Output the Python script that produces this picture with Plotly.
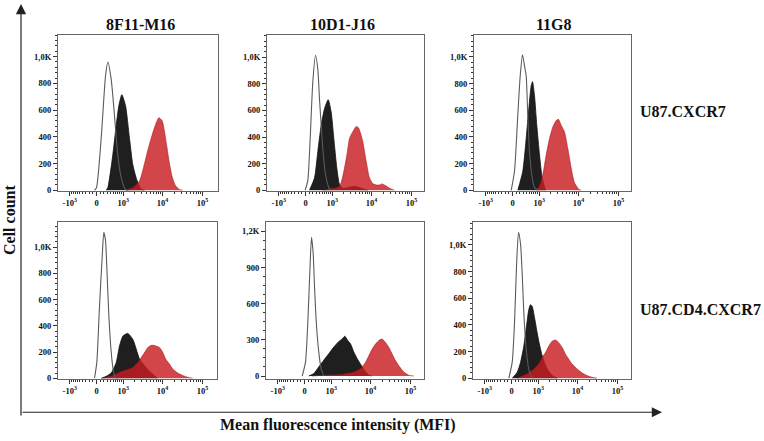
import math
import plotly.graph_objects as go

# ---------------- text ----------------
antibodies = ["8F11-M16", "10D1-J16", "11G8"]
cell_lines = ["U87.CXCR7", "U87.CD4.CXCR7"]
x_title = "Mean fluorescence intensity (MFI)"
y_title = "Cell count"

# x ticks (biexponential display)
x_tick_mfi = [-1000, 0, 1000, 10000, 100000]
x_tick_text = ["-10<sup>3</sup>", "0", "10<sup>3</sup>", "10<sup>4</sup>", "10<sup>5</sup>"]
x_minor_mfi = ([-900, -800, -700, -600, -500, -400, -300, -200, -100]
               + [100, 200, 300, 400, 500, 600, 700, 800, 900]
               + [2000, 3000, 4000, 5000, 6000, 7000, 8000, 9000]
               + [20000, 30000, 40000, 50000, 60000, 70000, 80000, 90000])

y_tick_vals_a = [0, 200, 400, 600, 800, 1000]
y_tick_text_a = ["0", "200", "400", "600", "800", "1,0K"]
y_tick_vals_b = [0, 300, 600, 900, 1200]
y_tick_text_b = ["0", "300", "600", "900", "1,2K"]

# ---------------- data: MFI and cell counts ----------------
# U87.CXCR7 / 8F11-M16
cx_8f11_ctrl_mfi = [-52, 0, 123, 244, 315, 428, 553, 700, 880, 1150, 1384]
cx_8f11_ctrl_cnt = [0, 20, 390, 855, 960, 830, 560, 265, 94, 5, 0]
cx_8f11_neg_mfi = [265, 315, 487, 627, 750, 913, 1152, 1470, 1790, 2270, 2930, 3550]
cx_8f11_neg_cnt = [0, 20, 265, 486, 630, 715, 634, 388, 192, 77, 10, 0]
cx_8f11_pos_mfi = [1200, 1790, 2655, 3552, 4300, 5230, 6330, 8120, 9880, 11280, 12870, 15040, 17570, 21240, 26750, 32300]
cx_8f11_pos_cnt = [0, 20, 70, 200, 300, 390, 470, 543, 520, 440, 330, 200, 100, 35, 5, 0]

# U87.CXCR7 / 10D1-J16
cx_10d1_ctrl_mfi = [-8, 60, 123, 194, 274, 347, 403, 525, 641, 805, 935]
cx_10d1_ctrl_cnt = [0, 74, 390, 810, 1015, 909, 687, 316, 119, 20, 0]
cx_10d1_neg_mfi = [104, 244, 347, 464, 595, 770, 935, 1103, 1327, 1561, 1900, 2984, 3988, 5643, 7983]
cx_10d1_neg_cnt = [0, 94, 292, 489, 612, 681, 588, 390, 168, 44, 15, 25, 28, 15, 0]
cx_10d1_pos_mfi = [525, 839, 1561, 2340, 2815, 3552, 4160, 4743, 5326, 6080, 7400, 8957, 10830, 13400, 15930, 18500, 22500, 28330, 37780]
cx_10d1_pos_cnt = [0, 8, 30, 242, 390, 450, 480, 470, 430, 366, 218, 94, 50, 40, 40, 48, 35, 15, 0]

# U87.CXCR7 / 11G8
cx_11g8_ctrl_mfi = [-34, 52, 139, 206, 274, 337, 393, 449, 513, 627, 736, 913]
cx_11g8_ctrl_cnt = [0, 143, 561, 857, 1017, 931, 857, 561, 291, 94, 20, 0]
cx_11g8_neg_mfi = [139, 283, 393, 487, 582, 641, 736, 855, 1017, 1200, 1470]
cx_11g8_neg_cnt = [0, 143, 389, 611, 783, 815, 709, 487, 266, 94, 0]
cx_11g8_pos_mfi = [822, 1017, 1250, 1530, 1867, 2270, 2770, 3162, 3700, 4478, 5420, 6600, 7983, 10230, 11740]
cx_11g8_pos_cnt = [0, 32, 118, 266, 389, 475, 524, 532, 487, 438, 315, 167, 57, 8, 0]

# U87.CD4.CXCR7 / 8F11-M16
cd4_8f11_ctrl_mfi = [-52, 8, 78, 150, 195, 244, 283, 347, 428, 513, 595, 687]
cd4_8f11_ctrl_cnt = [0, 121, 548, 925, 1113, 1050, 849, 480, 200, 50, 5, 0]
cd4_8f11_neg_mfi = [123, 265, 428, 627, 786, 985, 1320, 1790, 2200, 2655, 3250, 3900, 5650, 7540]
cd4_8f11_neg_cnt = [0, 15, 40, 120, 246, 322, 342, 297, 221, 146, 110, 80, 33, 0]
cd4_8f11_pos_mfi = [166, 487, 786, 1200, 1790, 2420, 2930, 3552, 4300, 5230, 5980, 8456, 10230, 12140, 15040, 18170, 24250, 32300, 43100, 57500]
cd4_8f11_pos_cnt = [0, 21, 46, 63, 83, 121, 158, 196, 234, 251, 251, 234, 196, 145, 108, 70, 40, 21, 8, 0]

# U87.CD4.CXCR7 / 10D1-J16
cd4_10d1_ctrl_mfi = [-60, 26, 86, 139, 186, 235, 274, 337, 414, 500, 608]
cd4_10d1_ctrl_cnt = [0, 115, 442, 851, 1151, 1015, 742, 415, 196, 60, 0]
cd4_10d1_neg_mfi = [112, 253, 414, 608, 855, 1175, 1530, 1945, 2270, 2700, 3162, 3830, 4670, 5880, 7537, 9120, 10650]
cd4_10d1_neg_cnt = [0, 20, 76, 131, 185, 240, 281, 308, 330, 294, 267, 199, 144, 90, 35, 8, 0]
cd4_10d1_pos_mfi = [206, 770, 1759, 3830, 5643, 7537, 9120, 11080, 13400, 17170, 19670, 23830, 28830, 34950, 42390, 54280, 68300, 92500, 123000]
cd4_10d1_pos_cnt = [0, 8, 11, 33, 60, 115, 169, 224, 265, 301, 306, 279, 238, 183, 128, 74, 33, 5, 0]

# U87.CD4.CXCR7 / 11G8
cd4_11g8_ctrl_mfi = [-70, 18, 78, 131, 186, 244, 295, 347, 428, 525, 627, 750]
cd4_11g8_ctrl_cnt = [0, 119, 415, 835, 1094, 1008, 785, 489, 218, 69, 15, 0]
cd4_11g8_neg_mfi = [18, 150, 244, 347, 439, 525, 595, 670, 805, 935, 1103, 1280, 1470, 1730, 2340, 3110]
cd4_11g8_neg_cnt = [0, 45, 119, 242, 390, 514, 551, 539, 440, 341, 242, 168, 119, 69, 20, 0]
cd4_11g8_pos_mfi = [150, 464, 750, 1035, 1280, 1561, 1900, 2340, 2815, 3400, 4160, 5028, 6080, 7400, 9850, 13170, 17570, 23440, 31250]
cd4_11g8_pos_cnt = [0, 33, 69, 106, 156, 193, 242, 279, 287, 267, 230, 180, 143, 106, 69, 40, 20, 7, 0]

panels = [
    (cx_8f11_ctrl_mfi, cx_8f11_ctrl_cnt, cx_8f11_neg_mfi, cx_8f11_neg_cnt, cx_8f11_pos_mfi, cx_8f11_pos_cnt),
    (cx_10d1_ctrl_mfi, cx_10d1_ctrl_cnt, cx_10d1_neg_mfi, cx_10d1_neg_cnt, cx_10d1_pos_mfi, cx_10d1_pos_cnt),
    (cx_11g8_ctrl_mfi, cx_11g8_ctrl_cnt, cx_11g8_neg_mfi, cx_11g8_neg_cnt, cx_11g8_pos_mfi, cx_11g8_pos_cnt),
    (cd4_8f11_ctrl_mfi, cd4_8f11_ctrl_cnt, cd4_8f11_neg_mfi, cd4_8f11_neg_cnt, cd4_8f11_pos_mfi, cd4_8f11_pos_cnt),
    (cd4_10d1_ctrl_mfi, cd4_10d1_ctrl_cnt, cd4_10d1_neg_mfi, cd4_10d1_neg_cnt, cd4_10d1_pos_mfi, cd4_10d1_pos_cnt),
    (cd4_11g8_ctrl_mfi, cd4_11g8_ctrl_cnt, cd4_11g8_neg_mfi, cd4_11g8_neg_cnt, cd4_11g8_pos_mfi, cd4_11g8_pos_cnt),
]

# ---------------- layout helpers ----------------
W, H = 764, 441
FONT = "Liberation Serif"


def biex(v):
    """Arcsinh (biexponential-like) display transform."""
    return math.asinh(v / 450.0) / math.log(10)


frames_x = [(58, 218), (267, 424), (474, 631), (58, 217), (266, 424), (473, 631)]
frames_y = [(35, 193)] * 3 + [(225, 383)] * 3
y_ranges = [[-4, 1165], [-4, 1170], [-4, 1168], [-3, 1188], [-22, 1274], [-3, 1168]]

fig = go.Figure()
layout_axes = {}
for i, (dat, fx, fy) in enumerate(zip(panels, frames_x, frames_y)):
    n = i + 1
    xa = "x" if n == 1 else f"x{n}"
    ya = "y" if n == 1 else f"y{n}"
    ctrl_x, ctrl_y, neg_x, neg_y, pos_x, pos_y = dat
    fig.add_trace(go.Scatter(x=[biex(v) for v in neg_x], y=neg_y, xaxis=xa, yaxis=ya,
                             mode="lines", fill="tozeroy", fillcolor="#1f1f1f",
                             line=dict(color="#111111", width=0.8, shape="spline", smoothing=0.6)))
    fig.add_trace(go.Scatter(x=[biex(v) for v in pos_x], y=pos_y, xaxis=xa, yaxis=ya,
                             mode="lines", fill="tozeroy", fillcolor="rgba(200,28,32,0.82)",
                             line=dict(color="rgba(170,20,24,0.9)", width=0.6, shape="spline", smoothing=0.6)))
    fig.add_trace(go.Scatter(x=[biex(v) for v in ctrl_x], y=ctrl_y, xaxis=xa, yaxis=ya,
                             mode="lines",
                             line=dict(color="#5a5a5a", width=1.1, shape="spline", smoothing=0.6)))

    left, right = fx
    x0 = -38.5 / 40.0
    x1 = (right - left - 38.5) / 40.0
    tickfont = dict(family=FONT, size=8.5, color="#111", weight="bold")
    layout_axes["xaxis" if n == 1 else f"xaxis{n}"] = dict(
        domain=[left / W, right / W], anchor=ya, range=[x0, x1],
        tickmode="array", tickvals=[biex(v) for v in x_tick_mfi], ticktext=x_tick_text,
        ticks="outside", ticklen=4, tickwidth=1, tickcolor="#333",
        showline=True, linecolor="#666", linewidth=1, mirror=True,
        showgrid=False, zeroline=False, tickfont=tickfont, fixedrange=True,
        minor=dict(tickmode="array", tickvals=[biex(v) for v in x_minor_mfi],
                   ticks="outside", ticklen=2, tickwidth=1, tickcolor="#333", showgrid=False),
    )
    if n == 5:
        tv, tt, mdt = y_tick_vals_b, y_tick_text_b, 75
    else:
        tv, tt, mdt = y_tick_vals_a, y_tick_text_a, 40
    top, bottom = fy
    layout_axes["yaxis" if n == 1 else f"yaxis{n}"] = dict(
        domain=[1 - bottom / H, 1 - top / H], anchor=xa, range=y_ranges[i],
        tickmode="array", tickvals=tv, ticktext=tt,
        ticks="outside", ticklen=4, tickwidth=1, tickcolor="#333",
        showline=True, linecolor="#666", linewidth=1, mirror=True,
        showgrid=False, zeroline=False, tickfont=tickfont, fixedrange=True,
        minor=dict(dtick=mdt, tick0=0, ticks="outside", ticklen=2, tickwidth=1,
                   tickcolor="#333", showgrid=False),
    )

annotations = []
title_font = dict(family=FONT, size=16, color="#111", weight="bold")
for name, cx in zip(antibodies, [140, 342, 554]):
    annotations.append(dict(text=name, x=cx / W, y=1 - 25 / H, xref="paper", yref="paper",
                            xanchor="center", yanchor="middle", showarrow=False, font=title_font))
for name, cy in zip(cell_lines, [112.7, 312.7]):
    annotations.append(dict(text=name, x=638 / W, y=1 - cy / H, xref="paper", yref="paper",
                            xanchor="left", yanchor="middle", showarrow=False, font=title_font))
annotations.append(dict(text=x_title, x=337.5 / W, y=1 - 430 / H, xref="paper", yref="paper",
                        xanchor="center", yanchor="middle", showarrow=False, font=title_font))
annotations.append(dict(text=y_title, x=10 / W, y=1 - 222.5 / H, xref="paper", yref="paper",
                        xanchor="center", yanchor="middle", showarrow=False, textangle=-90,
                        font=title_font))
# big axis arrows
annotations.append(dict(text="", x=21 / W, y=1 - 4 / H, xref="paper", yref="paper",
                        ax=0, ay=413, showarrow=True, arrowhead=2, arrowsize=1.7,
                        arrowwidth=1.2, arrowcolor="#222", standoff=0))
annotations.append(dict(text="", x=662 / W, y=1 - 417 / H, xref="paper", yref="paper",
                        ax=-641, ay=0, showarrow=True, arrowhead=2, arrowsize=1.7,
                        arrowwidth=1.2, arrowcolor="#222", standoff=0))

fig.update_layout(
    width=W, height=H, margin=dict(l=0, r=0, t=0, b=0),
    paper_bgcolor="white", plot_bgcolor="white", showlegend=False,
    annotations=annotations, **layout_axes,
)

fig.write_html("out.html", config={"displayModeBar": False},
               post_script="document.body.style.margin='0';document.body.style.padding='0';")
